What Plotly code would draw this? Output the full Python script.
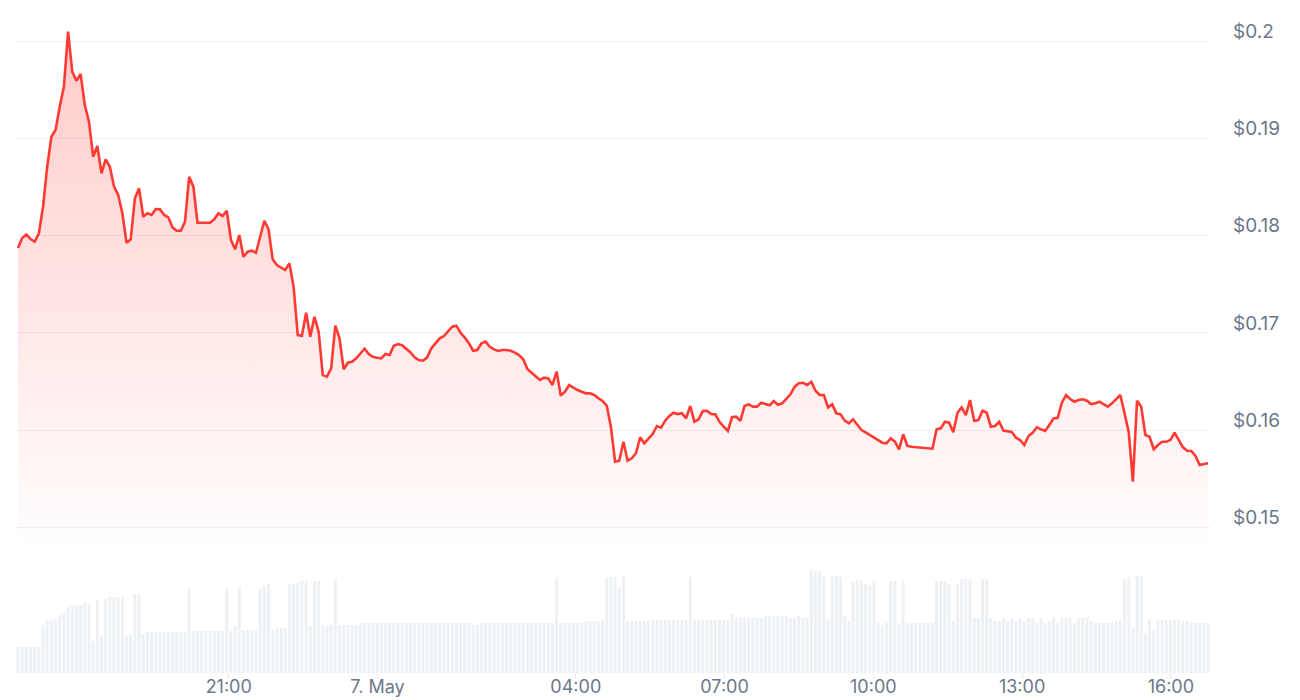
"""Price and volume chart, 24h window, 5 minute candles."""

import pandas as pd
import plotly.graph_objects as go

# price in USD, one value per interval
price = [
    0.17873, 0.17975, 0.18011, 0.17965, 0.17939, 0.18022, 0.18297, 0.18708, 0.19016, 0.19085,
    0.19325, 0.19530, 0.20096, 0.19684, 0.19592, 0.19661, 0.19342, 0.19171, 0.18811, 0.18921,
    0.18640, 0.18784, 0.18708, 0.18503, 0.18417, 0.18229, 0.17927, 0.17962, 0.18383, 0.18486,
    0.18194, 0.18229, 0.18212, 0.18273, 0.18270, 0.18212, 0.18188, 0.18085, 0.18050, 0.18050,
    0.18143, 0.18605, 0.18503, 0.18133, 0.18133, 0.18133, 0.18133, 0.18168, 0.18229, 0.18201,
    0.18256, 0.17955, 0.17859, 0.18006, 0.17783, 0.17835, 0.17845, 0.17824, 0.17989, 0.18153,
    0.18065, 0.17756, 0.17698, 0.17674, 0.17646, 0.17715, 0.17475, 0.16978, 0.16971, 0.17208,
    0.16961, 0.17166, 0.17012, 0.16567, 0.16550, 0.16636, 0.17074, 0.16944, 0.16626, 0.16694,
    0.16704, 0.16739, 0.16790, 0.16838, 0.16783, 0.16755, 0.16745, 0.16739, 0.16783, 0.16773,
    0.16868, 0.16886, 0.16873, 0.16835, 0.16799, 0.16749, 0.16721, 0.16714, 0.16749, 0.16842,
    0.16899, 0.16944, 0.16968, 0.17012, 0.17064, 0.17074, 0.17002, 0.16951, 0.16893, 0.16817,
    0.16824, 0.16893, 0.16910, 0.16858, 0.16831, 0.16814, 0.16824, 0.16824, 0.16817, 0.16797,
    0.16773, 0.16729, 0.16629, 0.16591, 0.16550, 0.16516, 0.16540, 0.16533, 0.16465, 0.16601,
    0.16355, 0.16396, 0.16465, 0.16437, 0.16413, 0.16396, 0.16379, 0.16379, 0.16362, 0.16328,
    0.16300, 0.16254, 0.16033, 0.15676, 0.15687, 0.15882, 0.15687, 0.15711, 0.15763, 0.15927,
    0.15865, 0.15913, 0.15961, 0.16043, 0.16026, 0.16098, 0.16146, 0.16180, 0.16166, 0.16174,
    0.16122, 0.16249, 0.16087, 0.16112, 0.16197, 0.16200, 0.16166, 0.16163, 0.16087, 0.16036,
    0.15992, 0.16133, 0.16139, 0.16095, 0.16249, 0.16266, 0.16242, 0.16242, 0.16283, 0.16269,
    0.16256, 0.16300, 0.16262, 0.16276, 0.16318, 0.16369, 0.16447, 0.16482, 0.16488, 0.16465,
    0.16498, 0.16406, 0.16362, 0.16362, 0.16235, 0.16266, 0.16174, 0.16163, 0.16098, 0.16071,
    0.16112, 0.16061, 0.16002, 0.15978, 0.15951, 0.15923, 0.15899, 0.15872, 0.15865, 0.15917,
    0.15882, 0.15804, 0.15958, 0.15838, 0.15830, 0.15827, 0.15824, 0.15814, 0.15817, 0.15810,
    0.16009, 0.16020, 0.16087, 0.16077, 0.15978, 0.16180, 0.16235, 0.16156, 0.16310, 0.16098,
    0.16105, 0.16200, 0.16180, 0.16036, 0.16043, 0.16087, 0.15997, 0.15992, 0.15982, 0.15923,
    0.15899, 0.15848, 0.15940, 0.15974, 0.16030, 0.16009, 0.15992, 0.16053, 0.16122, 0.16128,
    0.16283, 0.16362, 0.16321, 0.16293, 0.16310, 0.16318, 0.16303, 0.16269, 0.16276, 0.16293,
    0.16269, 0.16242, 0.16276, 0.16318, 0.16362, 0.16174, 0.15985, 0.15471, 0.16303, 0.16242,
    0.15951, 0.15933, 0.15804, 0.15848, 0.15882, 0.15882, 0.15899, 0.15974, 0.15892, 0.15824,
    0.15789, 0.15786, 0.15735, 0.15642, 0.15653, 0.15660,
]

# traded volume per interval (relative units)
volume = [
    26, 26, 26, 26, 26, 26, 48, 53, 53, 55,
    58, 60, 66, 68, 67, 68, 71, 69, 32, 73,
    36, 74, 76, 76, 76, 76, 37, 39, 79, 79,
    39, 41, 41, 41, 41, 41, 41, 41, 41, 41,
    41, 84, 42, 42, 42, 42, 42, 42, 42, 42,
    84, 42, 47, 86, 43, 43, 43, 43, 83, 87,
    89, 43, 45, 45, 45, 89, 89, 90, 92, 92,
    47, 92, 92, 48, 47, 48, 94, 48, 48, 48,
    48, 48, 50, 50, 50, 50, 50, 50, 50, 50,
    50, 50, 50, 50, 50, 50, 50, 50, 50, 50,
    50, 50, 50, 50, 50, 50, 50, 50, 50, 48,
    48, 50, 50, 50, 50, 50, 50, 50, 50, 50,
    50, 50, 50, 50, 50, 50, 50, 50, 50, 96,
    50, 50, 50, 50, 50, 50, 52, 52, 52, 52,
    52, 96, 96, 96, 86, 97, 52, 52, 52, 52,
    52, 52, 53, 53, 53, 53, 53, 53, 53, 53,
    53, 96, 53, 53, 53, 53, 53, 53, 53, 53,
    53, 59, 55, 55, 55, 55, 55, 55, 55, 57,
    57, 57, 57, 57, 57, 55, 55, 57, 55, 55,
    103, 102, 102, 96, 53, 97, 97, 96, 57, 52,
    91, 93, 92, 89, 87, 92, 51, 48, 50, 92,
    92, 50, 92, 50, 50, 50, 50, 50, 50, 50,
    92, 92, 92, 89, 52, 89, 94, 94, 94, 55,
    55, 94, 94, 55, 52, 52, 55, 52, 55, 52,
    55, 52, 55, 55, 50, 55, 50, 52, 55, 50,
    55, 55, 55, 50, 55, 55, 55, 52, 50, 50,
    50, 50, 50, 52, 53, 94, 96, 45, 97, 97,
    40, 53, 43, 53, 53, 53, 53, 53, 53, 52,
    52, 50, 50, 50, 50, 50,
]

window_start = "2024-05-06 16:45"
window_end = "2024-05-07 16:45"

tick_times = ["2024-05-06 21:00", "2024-05-07 00:00", "2024-05-07 04:00",
              "2024-05-07 07:00", "2024-05-07 10:00", "2024-05-07 13:00",
              "2024-05-07 16:00"]
tick_labels = ["21:00", "7. May", "04:00", "07:00", "10:00", "13:00", "16:00"]

price_ticks = [0.15, 0.16, 0.17, 0.18, 0.19, 0.2]
price_labels = ["$0.15", "$0.16", "$0.17", "$0.18", "$0.19", "$0.2"]

times = pd.date_range(window_start, window_end, periods=len(price))

LINE_RED = "#ff3a33"
LABEL_GREY = "#6b778b"

fig = go.Figure()

fig.add_trace(
    go.Bar(
        x=times,
        y=volume,
        marker=dict(color="#edf0f4", line=dict(width=0)),
        yaxis="y2",
        hoverinfo="skip",
    )
)

fig.add_trace(
    go.Scatter(
        x=times,
        y=price,
        mode="lines",
        line=dict(color=LINE_RED, width=2.6),
        fill="tozeroy",
        fillgradient=dict(
            type="vertical",
            colorscale=[[0, "rgba(255,58,51,0.01)"], [1, "rgba(255,58,51,0.26)"]],
            start=0.1487,
            stop=0.2,
        ),
        yaxis="y",
    )
)

pad = pd.Timedelta(minutes=2.4)
fig.update_layout(
    width=1300,
    height=700,
    margin=dict(l=16, r=90, t=10, b=27, autoexpand=False),
    paper_bgcolor="white",
    plot_bgcolor="white",
    showlegend=False,
    bargap=0.3,
    font=dict(family="Inter, Roboto, sans-serif", color=LABEL_GREY, size=16),
    xaxis=dict(
        type="date",
        range=[times[0] - pad, times[-1] + pad],
        tickvals=pd.to_datetime(tick_times),
        ticktext=tick_labels,
        ticks="outside",
        ticklen=5,
        tickcolor="#e4e8ee",
        showgrid=False,
        zeroline=False,
        showline=False,
        automargin=False,
        ticklabelstandoff=-8,
        tickfont=dict(size=18, color=LABEL_GREY),
        anchor="y2",
    ),
    yaxis=dict(
        domain=[0.2, 1],
        range=[0.148674, 0.20319],
        side="right",
        tickvals=price_ticks,
        ticktext=price_labels,
        showgrid=True,
        gridcolor="#eef1f5",
        gridwidth=1,
        zeroline=False,
        ticks="",
        automargin=False,
        ticklabelshift=-10,
        ticklabelstandoff=22,
        tickfont=dict(size=19, color=LABEL_GREY),
        anchor="x",
    ),
    yaxis2=dict(
        domain=[0, 0.2],
        range=[0, 132.6],
        visible=False,
        anchor="x",
    ),
)

# the page is shot at full window size, so drop the default body margin
fig.write_html(
    "out.html",
    config={"displayModeBar": False},
    post_script="document.body.style.margin = '0'; document.body.style.overflow = 'hidden';",
)
